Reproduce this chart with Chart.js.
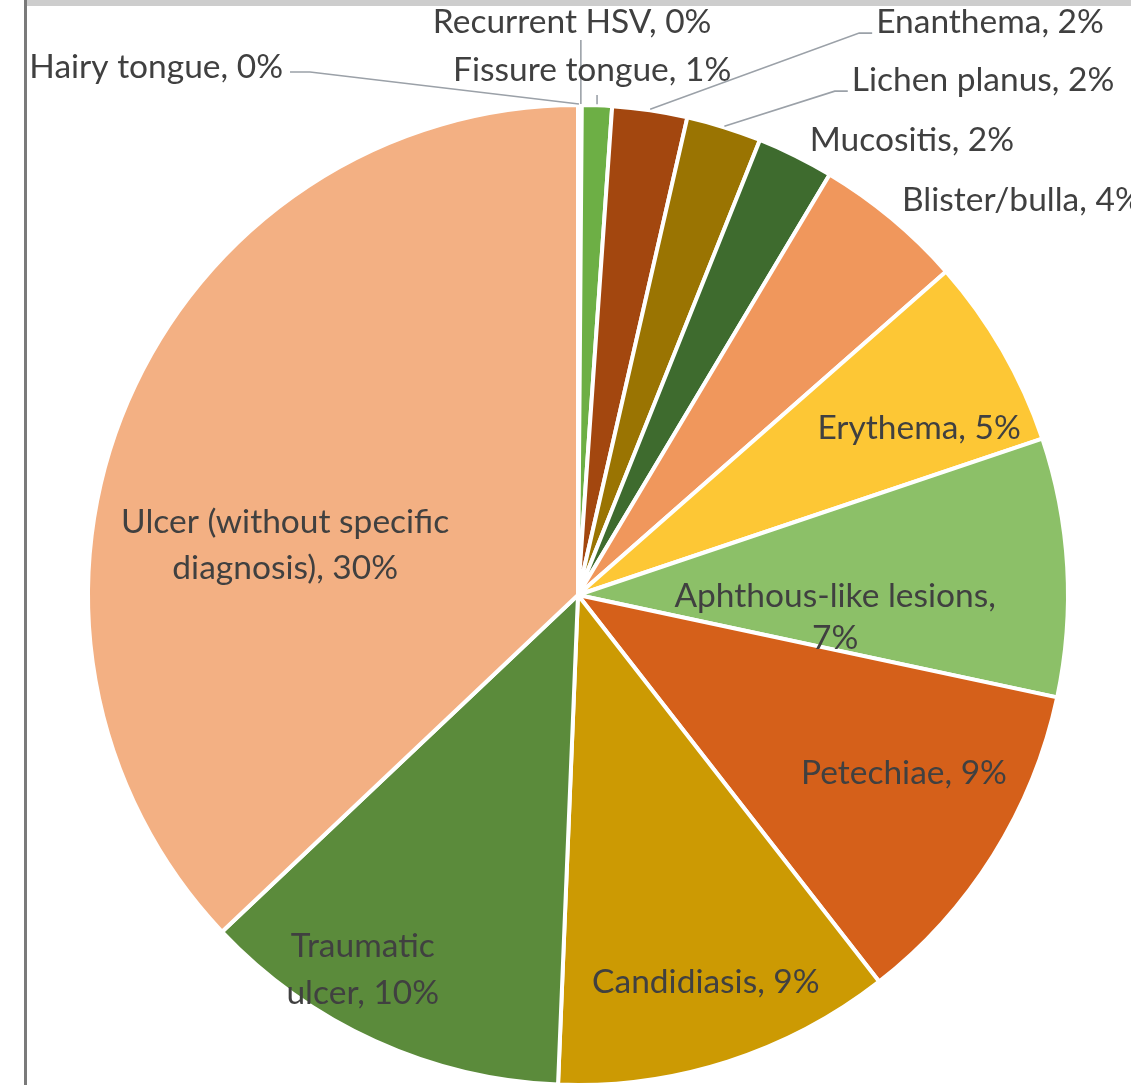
<!DOCTYPE html>
<html><head><meta charset="utf-8">
<script src="https://cdn.jsdelivr.net/npm/chart.js@4.4.1/dist/chart.umd.min.js"></script>
<style>
html,body{margin:0;padding:0;background:#fff;overflow:hidden;}
#wrap{position:relative;width:1131px;height:1085px;overflow:hidden;}
#topbar{position:absolute;left:27px;top:0;width:1104px;height:6px;background:#cdcdcd;}
#leftbar{position:absolute;left:24px;top:0;width:3px;height:1085px;background:#7a7a7a;}
canvas{position:absolute;left:0;top:0;}
</style></head><body>
<div id="wrap"><canvas id="c" width="1131" height="1085"></canvas><div id="topbar"></div><div id="leftbar"></div></div>
<script>
// ---- data ----
const categories = ['Hairy tongue','Recurrent HSV','Fissure tongue','Enanthema','Lichen planus','Mucositis','Blister/bulla','Erythema','Aphthous-like lesions','Petechiae','Candidiasis','Traumatic ulcer','Ulcer (without specific diagnosis)'];
const shares = [0.05,0.05,0.8,2.0,2.0,2.05,4.0,5.1,6.9,9.0,9.05,9.95,30.0];
const sliceColors = ['#ED7D31','#FFC000','#6DAF45','#A3470F','#9A7402','#3E6B2E','#F0975C','#FDC735','#8CC068','#D5601A','#CC9A03','#5B8B3B','#F3B083'];

// ---- label layout (fractions of radius from centre) ----
const labelLayout = [
  {dx:-0.6045, dy:-1.082, align:'right', leader:'right'},
  {dx:-0.012, dy:-1.174, align:'center', leader:'down', gap:18},
  {dx:0.029, dy:-1.076, align:'center', leader:'down', gap:25},
  {dx:0.611, dy:-1.174, align:'left', leader:'left'},
  {dx:0.561, dy:-1.055, align:'left', leader:'left'},
  {dx:0.475, dy:-0.932, align:'left'},
  {dx:0.664, dy:-0.809, align:'left'},
  {dx:0.699, dy:-0.342, align:'center'},
  {dx:0.527, dy:0.045, align:'center', wrap:345, lh:42},
  {dx:0.668, dy:0.365, align:'center'},
  {dx:0.262, dy:0.793, align:'center'},
  {dx:-0.441, dy:0.768, align:'center', wrap:170, lh:47},
  {dx:-0.600, dy:-0.102, align:'center', wrap:355, lh:46}
];
const FONT = '33.5px Lato';
const TEXT_COLOR = '#404040';
const LEADER_COLOR = '#9ba1a8';
const BORDER_W = 4;

function wrapText(ctx, text, maxW){
  if(!maxW) return [text];
  const words = text.split(' ');
  const lines = [];
  let cur = '';
  words.forEach(w => {
    const t = cur ? cur + ' ' + w : w;
    if (cur && ctx.measureText(t).width > maxW){ lines.push(cur); cur = w; }
    else cur = t;
  });
  if (cur) lines.push(cur);
  return lines;
}

const labelPlugin = {
  id:'pieLabels',
  afterDatasetsDraw(chart){
    const ctx = chart.ctx;
    const meta = chart.getDatasetMeta(0);
    ctx.save();
    ctx.font = FONT;
    ctx.fillStyle = TEXT_COLOR;
    ctx.textBaseline = 'middle';
    meta.data.forEach((arc, i) => {
      const p = arc.getProps(['x','y','startAngle','endAngle','outerRadius'], true);
      const R = p.outerRadius - BORDER_W/2;
      const L = labelLayout[i];
      const text = categories[i] + ', ' + Math.round(shares[i]) + '%';
      const lines = wrapText(ctx, text, L.wrap);
      const lh = L.lh || 40;
      const lx = p.x + L.dx * R;
      const ly = p.y + L.dy * R;
      ctx.textAlign = L.align;
      const y0 = ly - (lines.length - 1) * lh / 2;
      lines.forEach((ln, k) => { ctx.fillText(ln, lx, y0 + k * lh); });
      if (L.leader){
        const mid = (p.startAngle + p.endAngle) / 2;
        const ax = p.x + (R + 3) * Math.cos(mid);
        const ay = p.y + (R + 3) * Math.sin(mid);
        ctx.save();
        ctx.strokeStyle = LEADER_COLOR;
        ctx.lineWidth = 1.6;
        ctx.beginPath();
        if (L.leader === 'right'){
          const sx = lx + 7, sy = ly + 5;
          ctx.moveTo(sx, sy); ctx.lineTo(sx + 20, sy); ctx.lineTo(ax, ay);
        } else if (L.leader === 'left'){
          const sx = lx - 4, sy = ly + 11;
          ctx.moveTo(sx, sy); ctx.lineTo(sx - 13, sy); ctx.lineTo(ax, ay);
        } else if (L.leader === 'down'){
          ctx.moveTo(ax, ly + L.gap); ctx.lineTo(ax, ay);
        }
        ctx.stroke();
        ctx.restore();
      }
    });
    ctx.restore();
  }
};

function build(){
  new Chart(document.getElementById('c'), {
    type:'pie',
    data:{
      labels: categories,
      datasets:[{
        data: shares,
        backgroundColor: sliceColors,
        borderColor:'#ffffff',
        borderWidth: BORDER_W
      }]
    },
    options:{
      responsive:false,
      animation:false,
      devicePixelRatio:1,
      radius: 490,
      layout:{padding:{left:25,right:0,top:105,bottom:0}},
      plugins:{legend:{display:false}, tooltip:{enabled:false}}
    },
    plugins:[labelPlugin]
  });
}
if (document.fonts && document.fonts.load){
  document.fonts.load(FONT).then(build, build);
} else build();
</script>
</body></html>
